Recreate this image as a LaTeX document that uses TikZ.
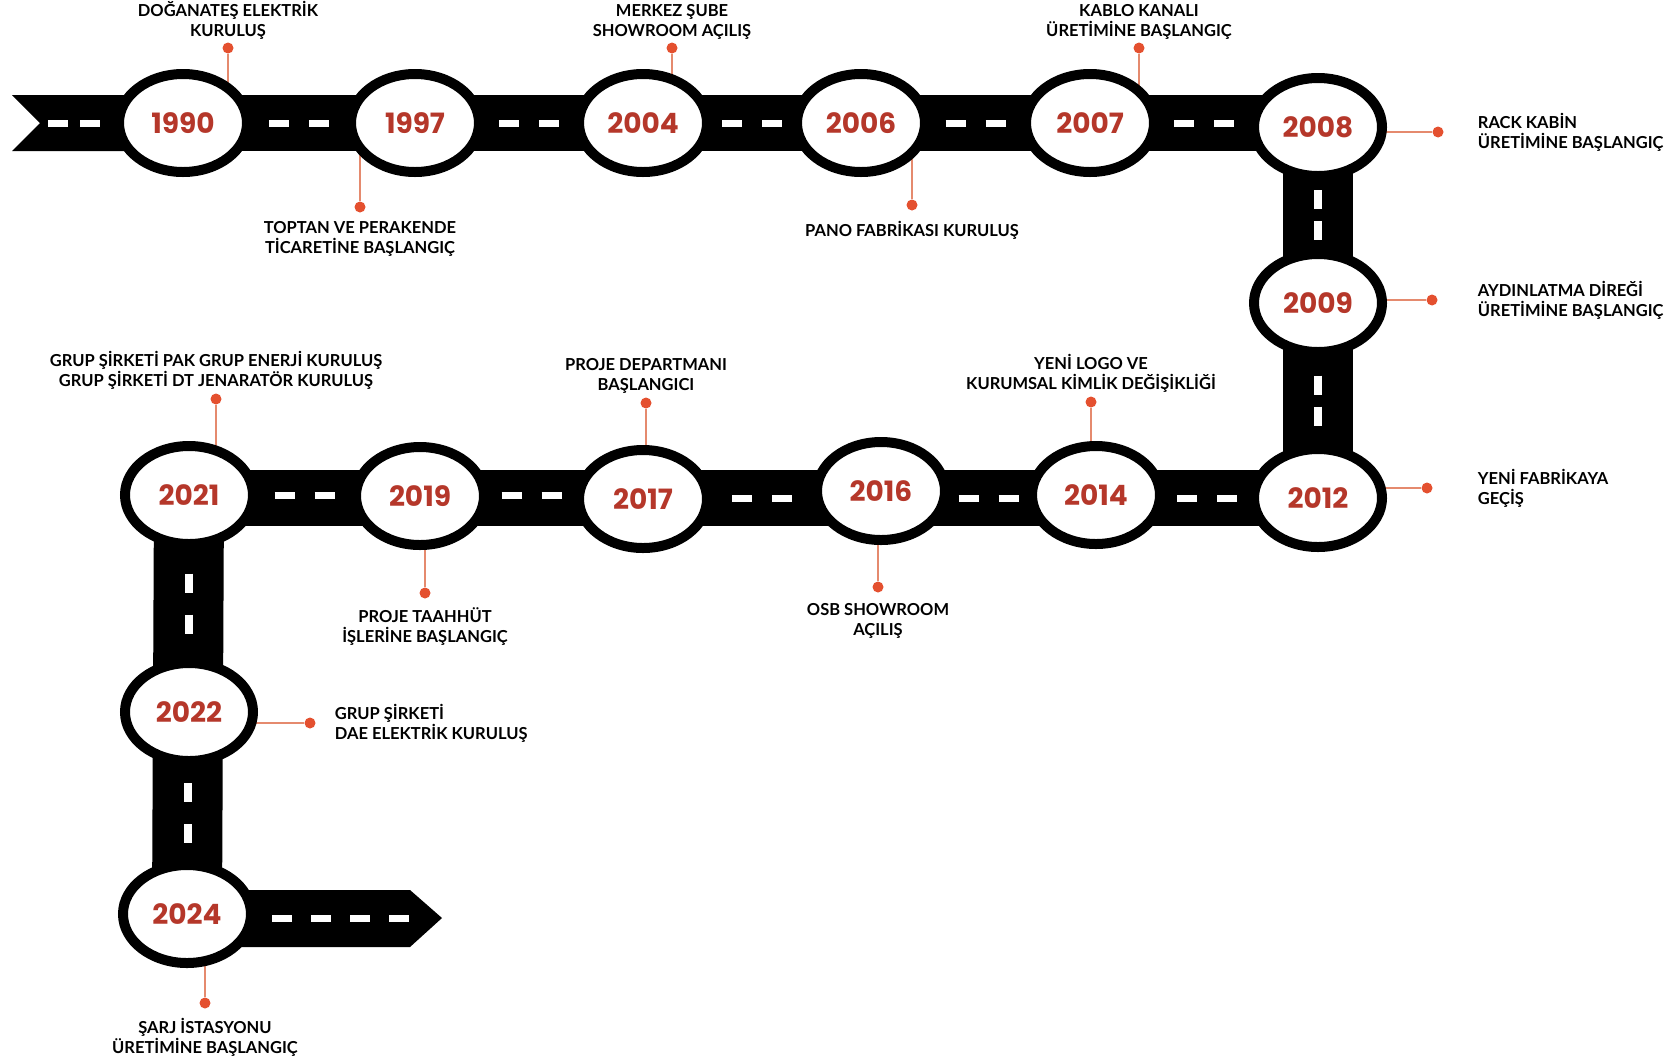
\documentclass[tikz,border=0pt]{standalone}
\usepackage{fontspec}
\setmainfont{Lato}
\newfontfamily\yearfont{Poppins}
\usetikzlibrary{shapes.geometric,positioning,backgrounds,calc}

\definecolor{yearred}{HTML}{B5372A}
\definecolor{pinred}{HTML}{E4502F}
\definecolor{pinline}{HTML}{E58A6E}

\tikzset{
  year/.style={ellipse, draw=black, line width=10pt, fill=white,
    minimum width=128pt, minimum height=98pt, inner sep=0pt,
    text=yearred, font=\yearfont\bfseries\fontsize{28}{28}\selectfont},
  road/.style={black, line width=56pt},
  vroad/.style={black, line width=70pt},
  lane/.style={white, line width=7pt, dash pattern=on 20pt off 20pt},
  vlane/.style={white, line width=8pt, dash pattern=on 19pt off 12pt},
  dot/.style={circle, fill=pinred, inner sep=0pt, minimum size=11pt},
  pin/.style={pinline, line width=1.6pt},
  note/.style={inner sep=0pt,
    font=\bfseries\fontsize{16.5}{20}\selectfont, align=center},
}

\begin{document}
\begin{tikzpicture}[x=1pt,y=-1pt]
  \useasboundingbox (0,0) rectangle (1677,1061);

  % years
  \node[year] (y1990) at (183,123) {1990};
  \node[year] (y1997) at (415,123) {1997};
  \node[year] (y2004) at (643,123) {2004};
  \node[year] (y2006) at (861,123) {2006};
  \node[year] (y2007) at (1090,123) {2007};
  \node[year] (y2008) at (1318,127) {2008};
  \node[year] (y2009) at (1318,303) {2009};
  \node[year] (y2012) at (1318,498) {2012};
  \node[year] (y2014) at (1096,495) {2014};
  \node[year] (y2016) at (881,491) {2016};
  \node[year] (y2017) at (643,499) {2017};
  \node[year] (y2019) at (420,496) {2019};
  \node[year] (y2021) at (189,495) {2021};
  \node[year] (y2022) at (189,712) {2022};
  \node[year] (y2024) at (187,914) {2024};

  % pins
  \node[dot] (d1990) at (228,48) {};
  \node[dot] (d1997) at (360,207) {};
  \node[dot] (d2004) at (672,48) {};
  \node[dot] (d2006) at (912,205) {};
  \node[dot] (d2007) at (1139,48) {};
  \node[dot] (d2008) at (1438,132) {};
  \node[dot] (d2009) at (1432,300) {};
  \node[dot] (d2012) at (1427,488) {};
  \node[dot] (d2014) at (1091,402) {};
  \node[dot] (d2016) at (878,587) {};
  \node[dot] (d2017) at (646,403) {};
  \node[dot] (d2019) at (425,593) {};
  \node[dot] (d2021) at (216,399) {};
  \node[dot] (d2022) at (310,723) {};
  \node[dot] (d2024) at (205,1003) {};

  \node[note, above=3pt of d1990] {DOĞANATEŞ ELEKTRİK\\KURULUŞ};
  \node[note, below=9pt of d1997] {TOPTAN VE PERAKENDE\\TİCARETİNE BAŞLANGIÇ};
  \node[note, above=3pt of d2004] {MERKEZ ŞUBE\\SHOWROOM AÇILIŞ};
  \node[note, below=10pt of d2006] {PANO FABRİKASI KURULUŞ};
  \node[note, above=3pt of d2007] {KABLO KANALI\\ÜRETİMİNE BAŞLANGIÇ};
  \node[note, align=left, right=34pt of d2008] {RACK KABİN\\ÜRETİMİNE BAŞLANGIÇ};
  \node[note, align=left, right=40pt of d2009] {AYDINLATMA DİREĞİ\\ÜRETİMİNE BAŞLANGIÇ};
  \node[note, align=left, right=45pt of d2012] {YENİ FABRİKAYA\\GEÇİŞ};
  \node[note, above=4pt of d2014] {YENİ LOGO VE\\KURUMSAL KİMLİK DEĞİŞİKLİĞİ};
  \node[note, below=11pt of d2016] {OSB SHOWROOM\\AÇILIŞ};
  \node[note, above=4pt of d2017] {PROJE DEPARTMANI\\BAŞLANGICI};
  \node[note, below=9pt of d2019] {PROJE TAAHHÜT\\İŞLERİNE BAŞLANGIÇ};
  \node[note, above=4pt of d2021] {GRUP ŞİRKETİ PAK GRUP ENERJİ KURULUŞ\\GRUP ŞİRKETİ DT JENARATÖR KURULUŞ};
  \node[note, align=left, right=19pt of d2022] {GRUP ŞİRKETİ\\DAE ELEKTRİK KURULUŞ};
  \node[note, below=9pt of d2024] {ŞARJ İSTASYONU\\ÜRETİMİNE BAŞLANGIÇ};

  \begin{scope}[on background layer]
    % road
    \fill (12,95) -- (40,123) -- (12,151) -- (183,151) -- (183,95) -- cycle;
    \draw[road] (y1990.center) -- (y1990.center -| y2008.center);
    \draw[vroad] (y2008.center) -- (y2012.center);
    \draw[road] (y2012.center) -- (y2012.center -| y2021.center);
    \draw[vroad] (y2021.center) -- (y2024.center);
    \fill (187,890) -- (410,890) -- (442,918) -- (410,947) -- (187,947) -- cycle;

    % lanes
    \draw[lane, dash pattern=on 20pt off 12pt] (48,123) -- (100,123);
    \draw[lane] ($(y1990.center)!.5!(y1997.center)+(-30,0)$) -- +(60,0);
    \draw[lane] ($(y1997.center)!.5!(y2004.center)+(-30,0)$) -- +(60,0);
    \draw[lane] ($(y2004.center)!.5!(y2006.center)+(-30,0)$) -- +(60,0);
    \draw[lane] ($(y2006.center)!.5!(y2007.center)+(-30,0)$) -- +(60,0);
    \draw[lane] ($(y2007.center)!.5!(y2008.center |- y2007.center)+(-30,0)$) -- +(60,0);
    \draw[vlane] ($(y2008.center)!.5!(y2009.center)+(0,-25)$) -- +(0,50);
    \draw[vlane] ($(y2009.center)!.5!(y2012.center)+(0,-25)$) -- +(0,50);
    \draw[lane] ($(y2014.center |- y2012.center)!.5!(y2012.center)+(-30,0)$) -- +(60,0);
    \draw[lane] ($(y2016.center |- y2012.center)!.5!(y2014.center |- y2012.center)+(-30,0)$) -- +(60,0);
    \draw[lane] ($(y2017.center |- y2012.center)!.5!(y2016.center |- y2012.center)+(-30,0)$) -- +(60,0);
    \draw[lane] ($(y2019.center |- y2021.center)!.5!(y2017.center |- y2021.center)+(-30,0)$) -- +(60,0);
    \draw[lane] ($(y2021.center)!.5!(y2019.center |- y2021.center)+(-30,0)$) -- +(60,0);
    \draw[vlane, dash pattern=on 19pt off 22pt] ($(y2021.center)!.5!(y2022.center)+(0,-30)$) -- +(0,60);
    \draw[vlane, dash pattern=on 19pt off 22pt] ($(y2022.center)!.5!(y2024.center)+(0,-30)$) -- +(0,60);
    \draw[lane, dash pattern=on 20pt off 19pt] (272,918) -- (410,918);

    \draw[pin] (d1990) -- (d1990 |- y1990.center);
    \draw[pin] (d1997) -- (d1997 |- y1997.center);
    \draw[pin] (d2004) -- (d2004 |- y2004.center);
    \draw[pin] (d2006) -- (d2006 |- y2006.center);
    \draw[pin] (d2007) -- (d2007 |- y2007.center);
    \draw[pin] (d2008) -- (d2008 -| y2008.center);
    \draw[pin] (d2009) -- (d2009 -| y2009.center);
    \draw[pin] (d2012) -- (d2012 -| y2012.center);
    \draw[pin] (d2014) -- (d2014 |- y2014.center);
    \draw[pin] (d2016) -- (d2016 |- y2016.center);
    \draw[pin] (d2017) -- (d2017 |- y2017.center);
    \draw[pin] (d2019) -- (d2019 |- y2019.center);
    \draw[pin] (d2021) -- (d2021 |- y2021.center);
    \draw[pin] (d2022) -- (d2022 -| y2022.center);
    \draw[pin] (d2024) -- (d2024 |- y2024.center);
  \end{scope}
\end{tikzpicture}
\end{document}
